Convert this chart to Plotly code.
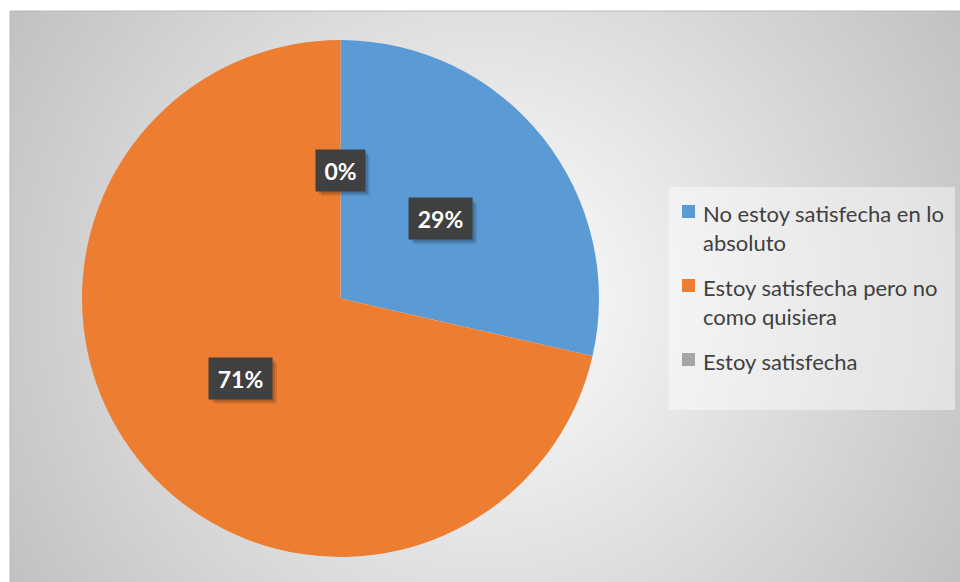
import base64
import math
import textwrap

import plotly.graph_objects as go

# Survey answers (number of respondents per option)
categories = [
    "No estoy satisfecha en lo absoluto",
    "Estoy satisfecha pero no como quisiera",
    "Estoy satisfecha",
]
counts = [2, 5, 0]
colors = ["#5B9BD5", "#ED7D31", "#A5A5A5"]

W, H = 960, 582
# pie geometry in pixels
cx, cy, r = 340.5, 298.5, 258.5

# chart-area background: radial gradient from white to light grey
ax0, ay0 = 10, 11
aw, ah = W - ax0, H - ay0
svg = f"""<svg xmlns='http://www.w3.org/2000/svg' width='{aw}' height='{ah}' viewBox='0 0 {aw} {ah}'>
<defs><radialGradient id='g' gradientUnits='userSpaceOnUse' cx='{487 - ax0}' cy='{300 - ay0}' r='565'>
<stop offset='0' stop-color='#ffffff'/><stop offset='1' stop-color='#c0c0c0'/></radialGradient></defs>
<rect x='0' y='0' width='{aw}' height='{ah}' fill='url(#g)'/></svg>"""
bg_src = "data:image/svg+xml;base64," + base64.b64encode(svg.encode()).decode()

fig = go.Figure()
fig.add_trace(go.Pie(
    labels=categories,
    values=counts,
    marker=dict(colors=colors, line=dict(width=0)),
    sort=False,
    direction="clockwise",
    rotation=0,
    textinfo="none",
    hoverinfo="label+percent",
    showlegend=False,
    domain=dict(x=[(cx - r) / W, (cx + r) / W], y=[1 - (cy + r) / H, 1 - (cy - r) / H]),
))

shapes = []
annotations = []

# data labels: dark boxes placed halfway along each slice's mid-angle
total = sum(counts)
cum = 0
box_h = 41
for v in counts:
    frac = v / total
    mid = (cum + frac / 2) * 2 * math.pi
    cum += frac
    px = cx + 0.495 * r * math.sin(mid)
    py = cy - 0.495 * r * math.cos(mid)
    txt = f"{round(frac * 100)}%"
    bw = 14 * len(txt) + 21
    # soft drop shadow behind the label box
    for off, alpha in [(5, 0.10), (3, 0.16)]:
        shapes.append(dict(type="rect", xref="paper", yref="paper",
                           x0=(px - bw / 2 + off) / W, x1=(px + bw / 2 + off) / W,
                           y0=1 - (py + box_h / 2 + off) / H, y1=1 - (py - box_h / 2 + off) / H,
                           fillcolor=f"rgba(0,0,0,{alpha})", line=dict(width=0)))
    annotations.append(dict(
        x=px / W, y=1 - py / H, xref="paper", yref="paper",
        text=f"<b>{txt}</b>", showarrow=False, xanchor="center", yanchor="middle",
        width=bw, height=box_h, bgcolor="#404040", borderpad=0,
        font=dict(family="Lato", size=23, color="#ffffff"),
    ))

# legend drawn as squares and wrapped text
leg_x, leg_y0, leg_x1, leg_y1 = 669, 187, 955, 410
shapes.append(dict(type="rect", xref="paper", yref="paper",
                   x0=leg_x / W, x1=leg_x1 / W, y0=1 - leg_y1 / H, y1=1 - leg_y0 / H,
                   fillcolor="rgba(255,255,255,0.45)", line=dict(width=0), layer="below"))
line_h = 28
item_gap = 18
ty = 198
for name, col in zip(categories, colors):
    lines = textwrap.wrap(name, 25)
    shapes.append(dict(type="rect", xref="paper", yref="paper",
                       x0=682 / W, x1=695 / W,
                       y0=1 - (ty + 20) / H, y1=1 - (ty + 7) / H,
                       fillcolor=col, line=dict(width=0)))
    annotations.append(dict(
        x=701 / W, y=1 - ty / H, xref="paper", yref="paper",
        text="<br>".join(lines), showarrow=False, xanchor="left", yanchor="top",
        align="left", font=dict(family="Lato", size=22, color="#404040"),
    ))
    ty += len(lines) * line_h + item_gap

# chart-area border
shapes.append(dict(type="rect", xref="paper", yref="paper",
                   x0=ax0 / W, x1=1.01, y0=-0.01, y1=1 - ay0 / H,
                   line=dict(color="#b8b8b8", width=1), fillcolor="rgba(0,0,0,0)", layer="below"))

fig.update_layout(
    width=W, height=H,
    margin=dict(l=0, r=0, t=0, b=0),
    paper_bgcolor="#ffffff",
    plot_bgcolor="#ffffff",
    images=[dict(source=bg_src, xref="paper", yref="paper",
                 x=ax0 / W, y=1 - ay0 / H, sizex=aw / W, sizey=ah / H,
                 xanchor="left", yanchor="top", sizing="stretch", layer="below")],
    shapes=shapes,
    annotations=annotations,
)

fig.write_html("out.html")
